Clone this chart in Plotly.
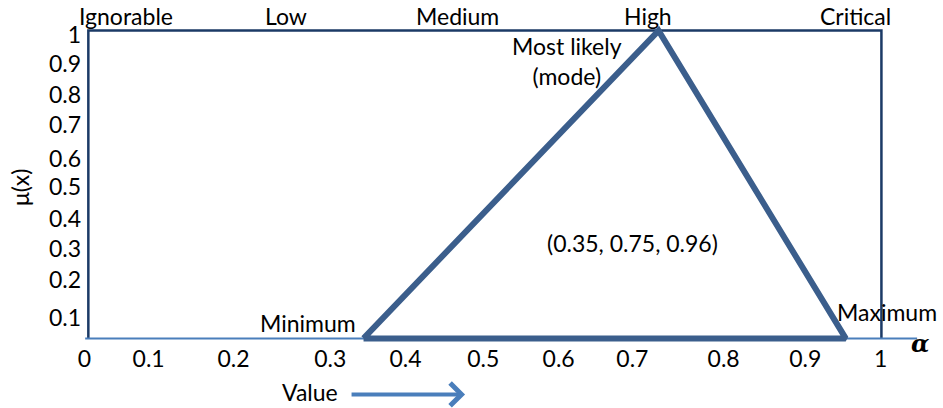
import plotly.graph_objects as go

# ---- data ----
tri_x = [0.347, 0.719, 0.955, 0.347]     # minimum, mode, maximum (closed)
tri_y = [0.0, 1.0, 0.0, 0.0]

x_tick_text = ["0", "0.1", "0.2", "0.3", "0.4", "0.5", "0.6", "0.7", "0.8", "0.9", "1"]
x_tick_pos = [-0.005, 0.076, 0.183, 0.305, 0.400, 0.498, 0.593, 0.686, 0.801, 0.904, 0.999]
y_tick_text = ["0.1", "0.2", "0.3", "0.4", "0.5", "0.6", "0.7", "0.8", "0.9", "1"]
y_tick_pos = [0.065, 0.189, 0.290, 0.388, 0.492, 0.583, 0.694, 0.792, 0.893, 0.987]

categories = ["Ignorable", "Low", "Medium", "High", "Critical"]
category_pos = [0.047, 0.249, 0.465, 0.706, 0.967]

FONT = "Lato"
FS = 23
NAVY = "#1B3A66"
TRI = "#3B5E8C"
LIGHT = "#4A7EBB"

XR = [-0.008, 1.060]
YR = [-0.015, 1.015]
PXX = 793.0   # px per x unit
PXY = 307.0   # px per y unit
W, H = 943, 408
L = 88 - (0 - XR[0]) * PXX
T = 31 - (YR[1] - 1) * PXY
PW = (XR[1] - XR[0]) * PXX
PH = (YR[1] - YR[0]) * PXY
R = W - L - PW
B = H - T - PH


def px(x):
    return (x - XR[0]) / (XR[1] - XR[0])


def py(y):
    return (y - YR[0]) / (YR[1] - YR[0])


fig = go.Figure()

# frame: left, top, right edges
fig.add_trace(go.Scatter(x=[0, 0, 1, 1], y=[0, 1, 1, 0], mode="lines",
                         line=dict(color=NAVY, width=2.5), hoverinfo="skip"))
# baseline (value axis) extending past the frame
fig.add_trace(go.Scatter(x=[-0.004, 1.045], y=[0, 0], mode="lines",
                         line=dict(color=LIGHT, width=2), hoverinfo="skip"))
# triangular fuzzy number
fig.add_trace(go.Scatter(x=tri_x, y=tri_y, mode="lines",
                         line=dict(color=TRI, width=6), hoverinfo="skip"))

tf = dict(family=FONT, size=FS, color="black")
ann = []
for c, p in zip(categories, category_pos):
    ann.append(dict(x=px(p), y=py(1.046), text=c, showarrow=False, font=tf))

ann += [
    dict(x=px(0.604), y=py(0.902), text="Most likely<br>(mode)", showarrow=False, font=tf),
    dict(x=px(0.277), y=py(0.049), text="Minimum", showarrow=False, font=tf),
    dict(x=px(1.007), y=py(0.085), text="Maximum", showarrow=False, font=tf),
    dict(x=px(0.686), y=py(0.309), text="(0.35, 0.75, 0.96)", showarrow=False, font=tf),
    dict(x=px(0.280), y=py(-0.174), text="Value", showarrow=False, font=tf),
    dict(x=px(1.049), y=py(-0.016), text="<b><i>α</i></b>", showarrow=False,
         font=dict(family="DejaVu Serif", size=24, color="black")),
    dict(x=px(-0.086), y=py(0.489), text="μ(x)", showarrow=False, textangle=-90, font=tf),
]
for a in ann:
    a["xref"] = "paper"
    a["yref"] = "paper"
    a["xanchor"] = "center"
    a["yanchor"] = "middle"

ann.append(dict(x=px(0.475), y=py(-0.182), xref="paper", yref="paper", ax=-115, ay=0,
                text="", showarrow=True, arrowhead=4, arrowsize=1.1, arrowwidth=4,
                arrowcolor=LIGHT))

fig.update_layout(
    width=W, height=H,
    margin=dict(l=L, r=R, t=T, b=B, pad=0, autoexpand=False),
    plot_bgcolor="white", paper_bgcolor="white",
    showlegend=False,
    annotations=ann,
    xaxis=dict(range=XR, tickvals=x_tick_pos, ticktext=x_tick_text,
               showgrid=False, zeroline=False, showline=False, ticks="",
               tickfont=tf, fixedrange=True),
    yaxis=dict(range=YR, tickvals=y_tick_pos, ticktext=y_tick_text,
               showgrid=False, zeroline=False, showline=False, ticks="",
               tickfont=tf, fixedrange=True),
)

fig.write_html("out.html",
               config={"displayModeBar": False},
               post_script="document.body.style.margin='0px';"
                           "document.body.style.overflow='hidden';")
